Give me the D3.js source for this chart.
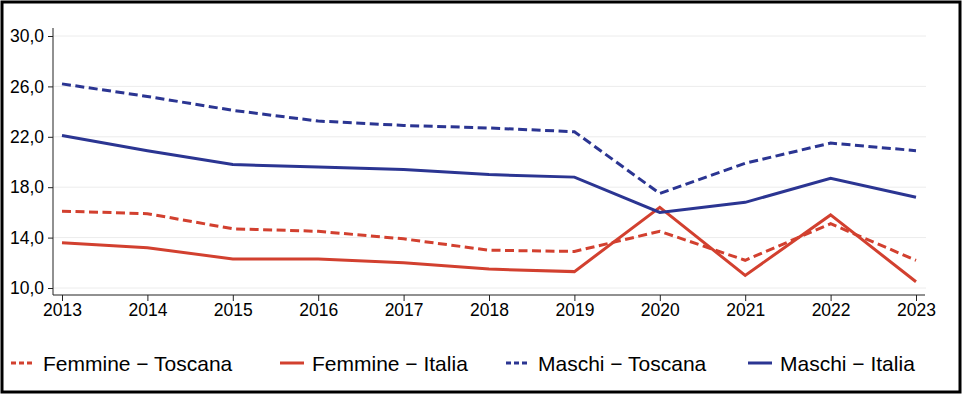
<!DOCTYPE html>
<html>
<head>
<meta charset="utf-8">
<script src="https://cdn.jsdelivr.net/npm/d3@7"></script>
<style>
  body { margin: 0; background: #fff; }
  svg { display: block; font-family: "Liberation Sans", Arial, sans-serif; }
</style>
</head>
<body>
<div id="chart"></div>
<script>
// data
const years = [2013, 2014, 2015, 2016, 2017, 2018, 2019, 2020, 2021, 2022, 2023];
const yTicks = [10, 14, 18, 22, 26, 30];
const femmineToscana = [16.1, 15.9, 14.7, 14.5, 13.9, 13.0, 12.9, 14.5, 12.2, 15.1, 12.2];
const femmineItalia  = [13.6, 13.2, 12.3, 12.3, 12.0, 11.5, 11.3, 16.4, 11.0, 15.8, 10.5];
const maschiToscana  = [26.2, 25.2, 24.1, 23.25, 22.9, 22.7, 22.4, 17.5, 19.9, 21.5, 20.9];
const maschiItalia   = [22.1, 20.9, 19.8, 19.6, 19.4, 19.0, 18.8, 16.0, 16.8, 18.7, 17.2];

const red = "#d2402f", blue = "#2b3592";
const series = [
  { name: "Femmine \u2212 Toscana", values: femmineToscana, color: red, dashed: true },
  { name: "Femmine \u2212 Italia", values: femmineItalia, color: red, dashed: false },
  { name: "Maschi \u2212 Toscana", values: maschiToscana, color: blue, dashed: true },
  { name: "Maschi \u2212 Italia", values: maschiItalia, color: blue, dashed: false }
];

const W = 967, H = 397;
const svg = d3.select("#chart").append("svg")
  .attr("width", W)
  .attr("height", H);

// outer frame
svg.append("rect")
  .attr("x", 2).attr("y", 2)
  .attr("width", 958).attr("height", 390)
  .attr("fill", "none")
  .attr("stroke", "#000")
  .attr("stroke-width", 3);

const x = d3.scaleLinear().domain([2013, 2023]).range([62, 916]);
const y = d3.scaleLinear().domain([10, 30]).range([288, 36]);
const axisX = 53, axisY = 295;

// grid
svg.append("g").selectAll("line")
  .data(yTicks)
  .join("line")
  .attr("x1", axisX).attr("x2", 926)
  .attr("y1", d => y(d)).attr("y2", d => y(d))
  .attr("stroke", "#ececec")
  .attr("stroke-width", 1);

// y axis
const yAxis = svg.append("g")
  .attr("transform", `translate(${axisX},0)`)
  .call(d3.axisLeft(y).tickValues(yTicks).tickSize(5).tickPadding(4)
    .tickFormat(d => d3.format(".1f")(d).replace(".", ",")));
yAxis.select(".domain").remove();
yAxis.append("line")
  .attr("x1", 0).attr("x2", 0).attr("y1", 28).attr("y2", axisY)
  .attr("stroke", "#222");

// x axis
const xAxis = svg.append("g")
  .attr("transform", `translate(0,${axisY})`)
  .call(d3.axisBottom(x).tickValues(years).tickSize(6).tickPadding(3)
    .tickFormat(d3.format("d")));
xAxis.select(".domain").remove();
xAxis.append("line")
  .attr("x1", axisX).attr("x2", 925).attr("y1", 0).attr("y2", 0)
  .attr("stroke", "#222");

svg.selectAll(".tick line").attr("stroke", "#222");
svg.selectAll(".tick text").attr("fill", "#000").attr("font-size", 17.5)
  .attr("font-family", "Liberation Sans, Arial, sans-serif");

// lines
const line = d3.line()
  .x((d, i) => x(years[i]))
  .y(d => y(d));

svg.append("g").selectAll("path")
  .data(series)
  .join("path")
  .attr("d", d => line(d.values))
  .attr("fill", "none")
  .attr("stroke", d => d.color)
  .attr("stroke-width", 3)
  .attr("stroke-dasharray", d => d.dashed ? "9,4.5" : null);

// legend
const legendTextX = [43, 312, 538, 780];
const legend = svg.append("g").selectAll("g")
  .data(series)
  .join("g")
  .attr("transform", (d, i) => `translate(${legendTextX[i]},363)`);

legend.append("line")
  .attr("x1", -32).attr("x2", -8)
  .attr("y1", 0).attr("y2", 0)
  .attr("stroke", d => d.color)
  .attr("stroke-width", 3)
  .attr("stroke-dasharray", d => d.dashed ? "5,3" : null);

legend.append("text")
  .attr("x", 0)
  .attr("y", 8)
  .attr("font-size", 21)
  .attr("fill", "#000")
  .text(d => d.name);
</script>
</body>
</html>
